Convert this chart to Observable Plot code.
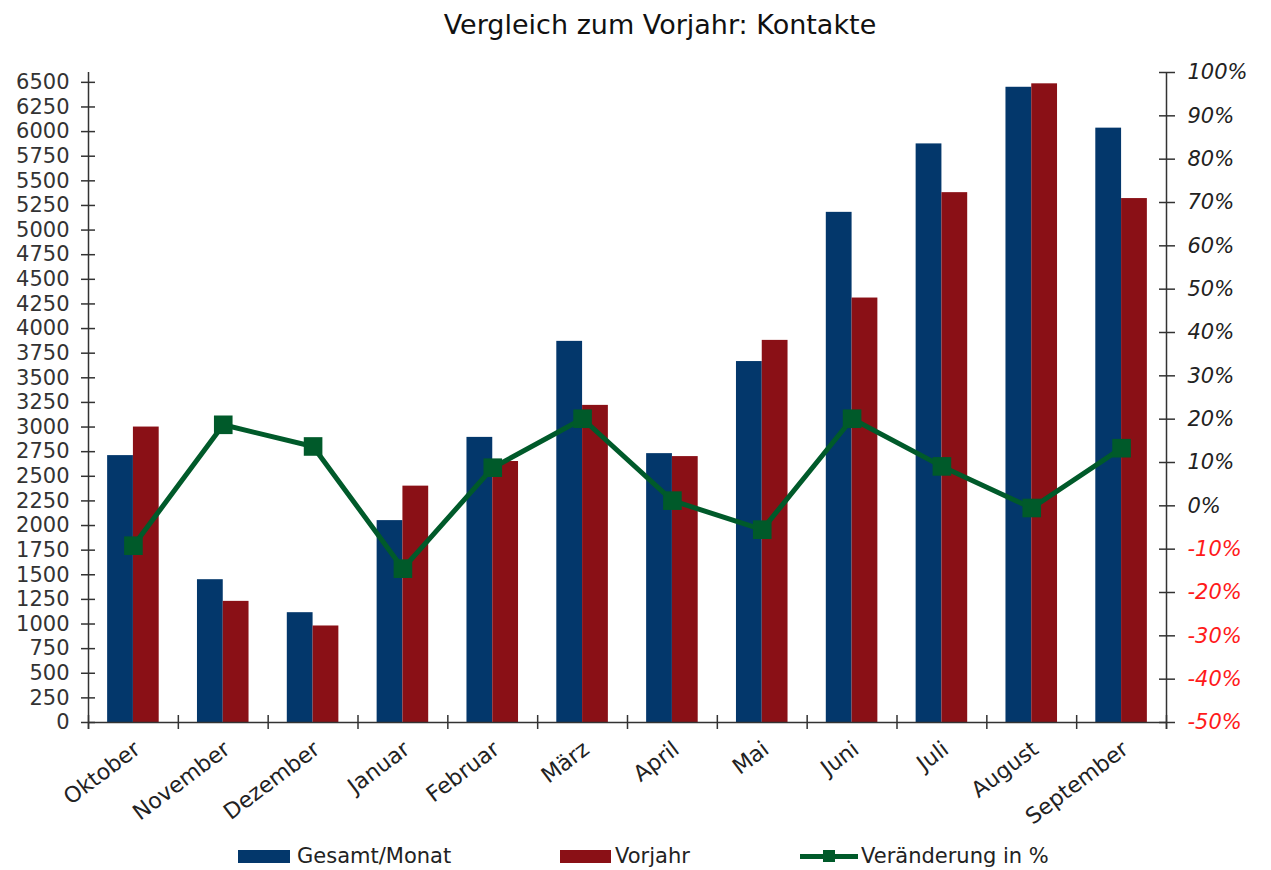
<!DOCTYPE html>
<html><head><meta charset="utf-8">
<script src="https://cdn.jsdelivr.net/npm/d3@7"></script>
<script src="https://cdn.jsdelivr.net/npm/@observablehq/plot@0.6"></script>
<style>
body{margin:0;background:#fff;font-family:"DejaVu Sans",Verdana,sans-serif;}
#wrap{position:relative;width:1271px;height:870px;overflow:hidden;background:#fff;}
#title{position:absolute;left:0;width:1320px;top:9px;text-align:center;font-size:27px;line-height:32px;color:#111;}
#chart{position:absolute;left:0;top:0;}
.lg{position:absolute;font-size:21px;line-height:21px;color:#222;white-space:nowrap;}
.sw{position:absolute;}
</style></head>
<body><div id="wrap">
<div id="chart"></div>
<div id="title">Vergleich zum Vorjahr: Kontakte</div>
<div id="legend"></div>
</div>
<script>
const months = ["Oktober","November","Dezember","Januar","Februar","März","April","Mai","Juni","Juli","August","September"];
const gesamt = [2710,1450,1115,2050,2895,3870,2730,3665,5180,5875,6450,6035];
const vorjahr = [3000,1230,980,2400,2650,3220,2700,3880,4310,5380,6485,5320];
const veraenderung = [-9.2,18.7,13.7,-14.5,8.8,20.1,1.2,-5.5,20.1,9.1,-0.5,13.3];
const leftTicks = d3.range(0, 6501, 250);
const rightTicks = d3.range(-50, 101, 10);
const seriesNames = ["Gesamt/Monat","Vorjahr","Veränderung in %"];

const blue = "#03376B", red = "#8A1016", green = "#005A2A";
const yMax = 6600, pMin = -50, pMax = 100;
const toY = p => (p - pMin) / (pMax - pMin) * yMax;
const fromY = v => Math.round(v / yMax * (pMax - pMin) + pMin);
const bw = 0.287;
const tickLen = 7 * yMax / 650;

const rows = months.map((m, i) => ({i, m, g: gesamt[i], v: vorjahr[i], p: veraenderung[i]}));

const plot = Plot.plot({
  width: 1271, height: 840,
  marginTop: 72, marginLeft: 88, marginRight: 105, marginBottom: 118,
  x: {domain: [-0.5, 11.5], axis: null},
  y: {domain: [0, yMax], axis: null},
  style: {fontFamily: "'DejaVu Sans', Verdana, sans-serif", fontSize: "21px", color: "#333", background: "transparent"},
  marks: [
    Plot.rectY(rows, {x1: d => d.i - bw, x2: d => d.i, y1: 0, y2: "g", fill: blue}),
    Plot.rectY(rows, {x1: d => d.i, x2: d => d.i + bw, y1: 0, y2: "v", fill: red}),
    Plot.ruleY([0], {stroke: "#333", strokeWidth: 1.5}),
    Plot.ruleX([-0.5, 11.5], {y1: -tickLen, y2: yMax, stroke: "#333", strokeWidth: 1.5}),
    Plot.ruleX(d3.range(13).map(k => k - 0.5), {y1: -tickLen, y2: tickLen, stroke: "#333", strokeWidth: 1.5}),
    Plot.axisY({anchor: "left", ticks: leftTicks, tickSize: 14, dx: 7, tickFormat: () => "", label: null, stroke: "#333", strokeWidth: 1.5}),
    Plot.axisY({anchor: "left", ticks: leftTicks, tickSize: 0, tickPadding: 19, tickFormat: d => String(d), label: null, fill: "#333"}),
    Plot.axisY({anchor: "right", ticks: rightTicks.map(toY), tickSize: 16, dx: -8, tickFormat: () => "", label: null, stroke: "#333", strokeWidth: 1.5}),
    Plot.axisY({anchor: "right", ticks: rightTicks.filter(p => p >= 0).map(toY), tickSize: 0, tickPadding: 21, tickFormat: v => fromY(v) + "%", label: null, fill: "#222", fontStyle: "italic"}),
    Plot.axisY({anchor: "right", ticks: rightTicks.filter(p => p < 0).map(toY), tickSize: 0, tickPadding: 21, tickFormat: v => fromY(v) + "%", label: null, fill: "#FF1A1A", fontStyle: "italic"}),
    Plot.axisX({ticks: d3.range(12), tickFormat: i => months[i], tickRotate: -37, tickSize: 0, tickPadding: 24, dx: 4, label: null, fill: "#222", fontSize: 22}),
    Plot.line(rows, {x: "i", y: d => toY(d.p), stroke: green, strokeWidth: 5}),
    Plot.dot(rows, {x: "i", y: d => toY(d.p), symbol: "square", r: 10.5, fill: green})
  ]
});
document.getElementById("chart").appendChild(plot);

const lg = document.getElementById("legend");
const items = [
  {type: "rect", color: blue, x: 238, w: 52, tx: 297},
  {type: "rect", color: red, x: 560, w: 51, tx: 615},
  {type: "line", color: green, x: 800, w: 58, tx: 861}
];
const lgTop = 846;
items.forEach((it, k) => {
  if (it.type === "rect") {
    const s = document.createElement("div");
    s.className = "sw";
    s.style.cssText = `left:${it.x}px;top:${lgTop + 4}px;width:${it.w}px;height:13px;background:${it.color};`;
    lg.appendChild(s);
  } else {
    const s = document.createElement("div");
    s.className = "sw";
    s.style.cssText = `left:${it.x}px;top:${lgTop + 8}px;width:${it.w}px;height:5px;background:${it.color};`;
    lg.appendChild(s);
    const m = document.createElement("div");
    m.className = "sw";
    m.style.cssText = `left:${it.x + it.w/2 - 6}px;top:${lgTop + 4}px;width:12px;height:12px;background:${it.color};`;
    lg.appendChild(m);
  }
  const t = document.createElement("div");
  t.className = "lg";
  t.style.left = it.tx + "px";
  t.style.top = lgTop + "px";
  t.textContent = seriesNames[k];
  lg.appendChild(t);
});
</script>
</body></html>
